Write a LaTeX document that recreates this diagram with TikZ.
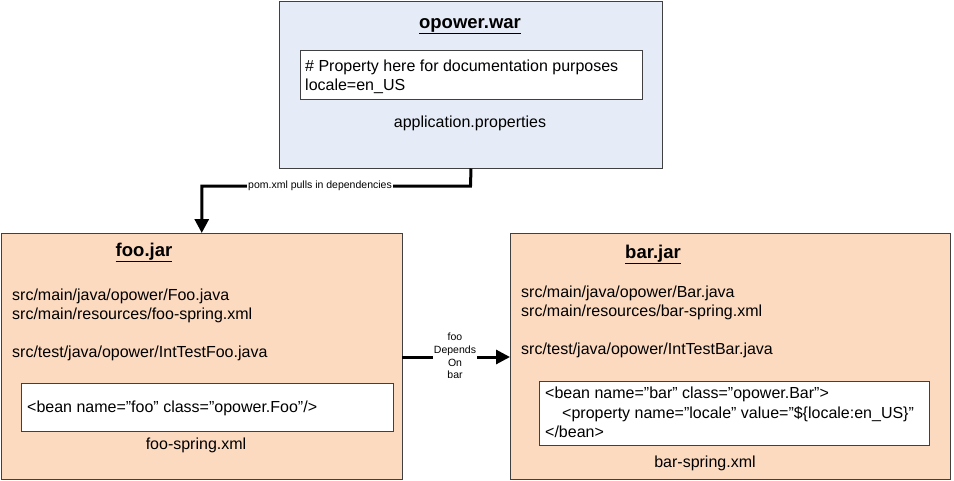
\documentclass[tikz,border=0pt]{standalone}
\usepackage{fontspec}
\setmainfont{Liberation Sans}
\usetikzlibrary{arrows.meta}
\definecolor{warfill}{HTML}{E6ECF7}
\definecolor{jarfill}{HTML}{FCDAC0}
\definecolor{edge}{HTML}{404040}
\tikzset{
  outerbox/.style={draw=edge, line width=1pt, anchor=north west, inner sep=0pt},
  innerbox/.style={draw=edge, fill=white, line width=1pt, anchor=north west, inner sep=0pt},
  txt/.style={anchor=base west, inner sep=0pt, font=\fontsize{16}{19}\selectfont},
  ctxt/.style={anchor=base, inner sep=0pt, font=\fontsize{16}{19}\selectfont},
  ttl/.style={anchor=base, inner sep=0pt, font=\fontsize{18.5}{20}\selectfont\bfseries},
  conn/.style={line width=3pt, -{Triangle[length=14pt, width=14pt]}},
  lbl/.style={fill=white, inner sep=1pt, font=\fontsize{10.5}{12.7}\selectfont, align=center}
}
\begin{document}
\begin{tikzpicture}[x=1pt, y=-1pt]
\useasboundingbox (0,0) rectangle (954,480);
% opower.war
\node[outerbox, fill=warfill, minimum width=383pt, minimum height=167pt] (war) at (279,0.5) {};
\node[ttl] (wart) at (470,28) {\underline{opower.war}};
\node[innerbox, minimum width=342pt, minimum height=49pt] (props) at (300,50) {};
\node[txt] (propt1) at (305,71) {\# Property here for documentation purposes};
\node[txt] (propt2) at (305,90) {locale=en\_US};
\node[ctxt] (appp) at (470,127) {application.properties};
% foo.jar
\node[outerbox, fill=jarfill, minimum width=401.5pt, minimum height=246pt] (foo) at (0.5,233) {};
\node[ttl] (foot) at (144,256) {\underline{foo.jar}};
\node[txt] (foos1) at (12,300) {src/main/java/opower/Foo.java};
\node[txt] (foos2) at (12,319) {src/main/resources/foo-spring.xml};
\node[txt] (foos3) at (12,357) {src/test/java/opower/IntTestFoo.java};
\node[innerbox, minimum width=372pt, minimum height=48pt] (foox) at (21,383) {};
\node[txt] (fooxt) at (27,412) {<bean name=”foo” class=”opower.Foo”/>};
\node[ctxt] (foosp) at (196,449) {foo-spring.xml};
% bar.jar
\node[outerbox, fill=jarfill, minimum width=440pt, minimum height=246pt] (bar) at (510,233) {};
\node[ttl] (bart) at (653,258) {\underline{bar.jar}};
\node[txt] (bars1) at (521,297) {src/main/java/opower/Bar.java};
\node[txt] (bars2) at (521,316) {src/main/resources/bar-spring.xml};
\node[txt] (bars3) at (521,354) {src/test/java/opower/IntTestBar.java};
\node[innerbox, minimum width=390pt, minimum height=64pt] (barx) at (539,381) {};
\node[txt] (barx1) at (545,398) {<bean name=”bar” class=”opower.Bar”>};
\node[txt] (barx2) at (562,418) {<property name=”locale” value=”\$\{locale:en\_US\}”};
\node[txt] (barx3) at (545,437) {</bean>};
\node[ctxt] (barsp) at (705,467) {bar-spring.xml};
% connectors
\coordinate (bend) at (470.5,186);
\draw[conn] (war.south) -- (bend) -| (foo.north);
\node[lbl] (pomlbl) at (320,186) {pom.xml pulls in dependencies};
\coordinate (fooe) at (402,357);
\coordinate (barw) at (510,357);
\draw[conn] (fooe) -- (barw);
\node[lbl] (deplbl) at (455,356) {foo\\Depends\\On\\bar};
\end{tikzpicture}
\end{document}
